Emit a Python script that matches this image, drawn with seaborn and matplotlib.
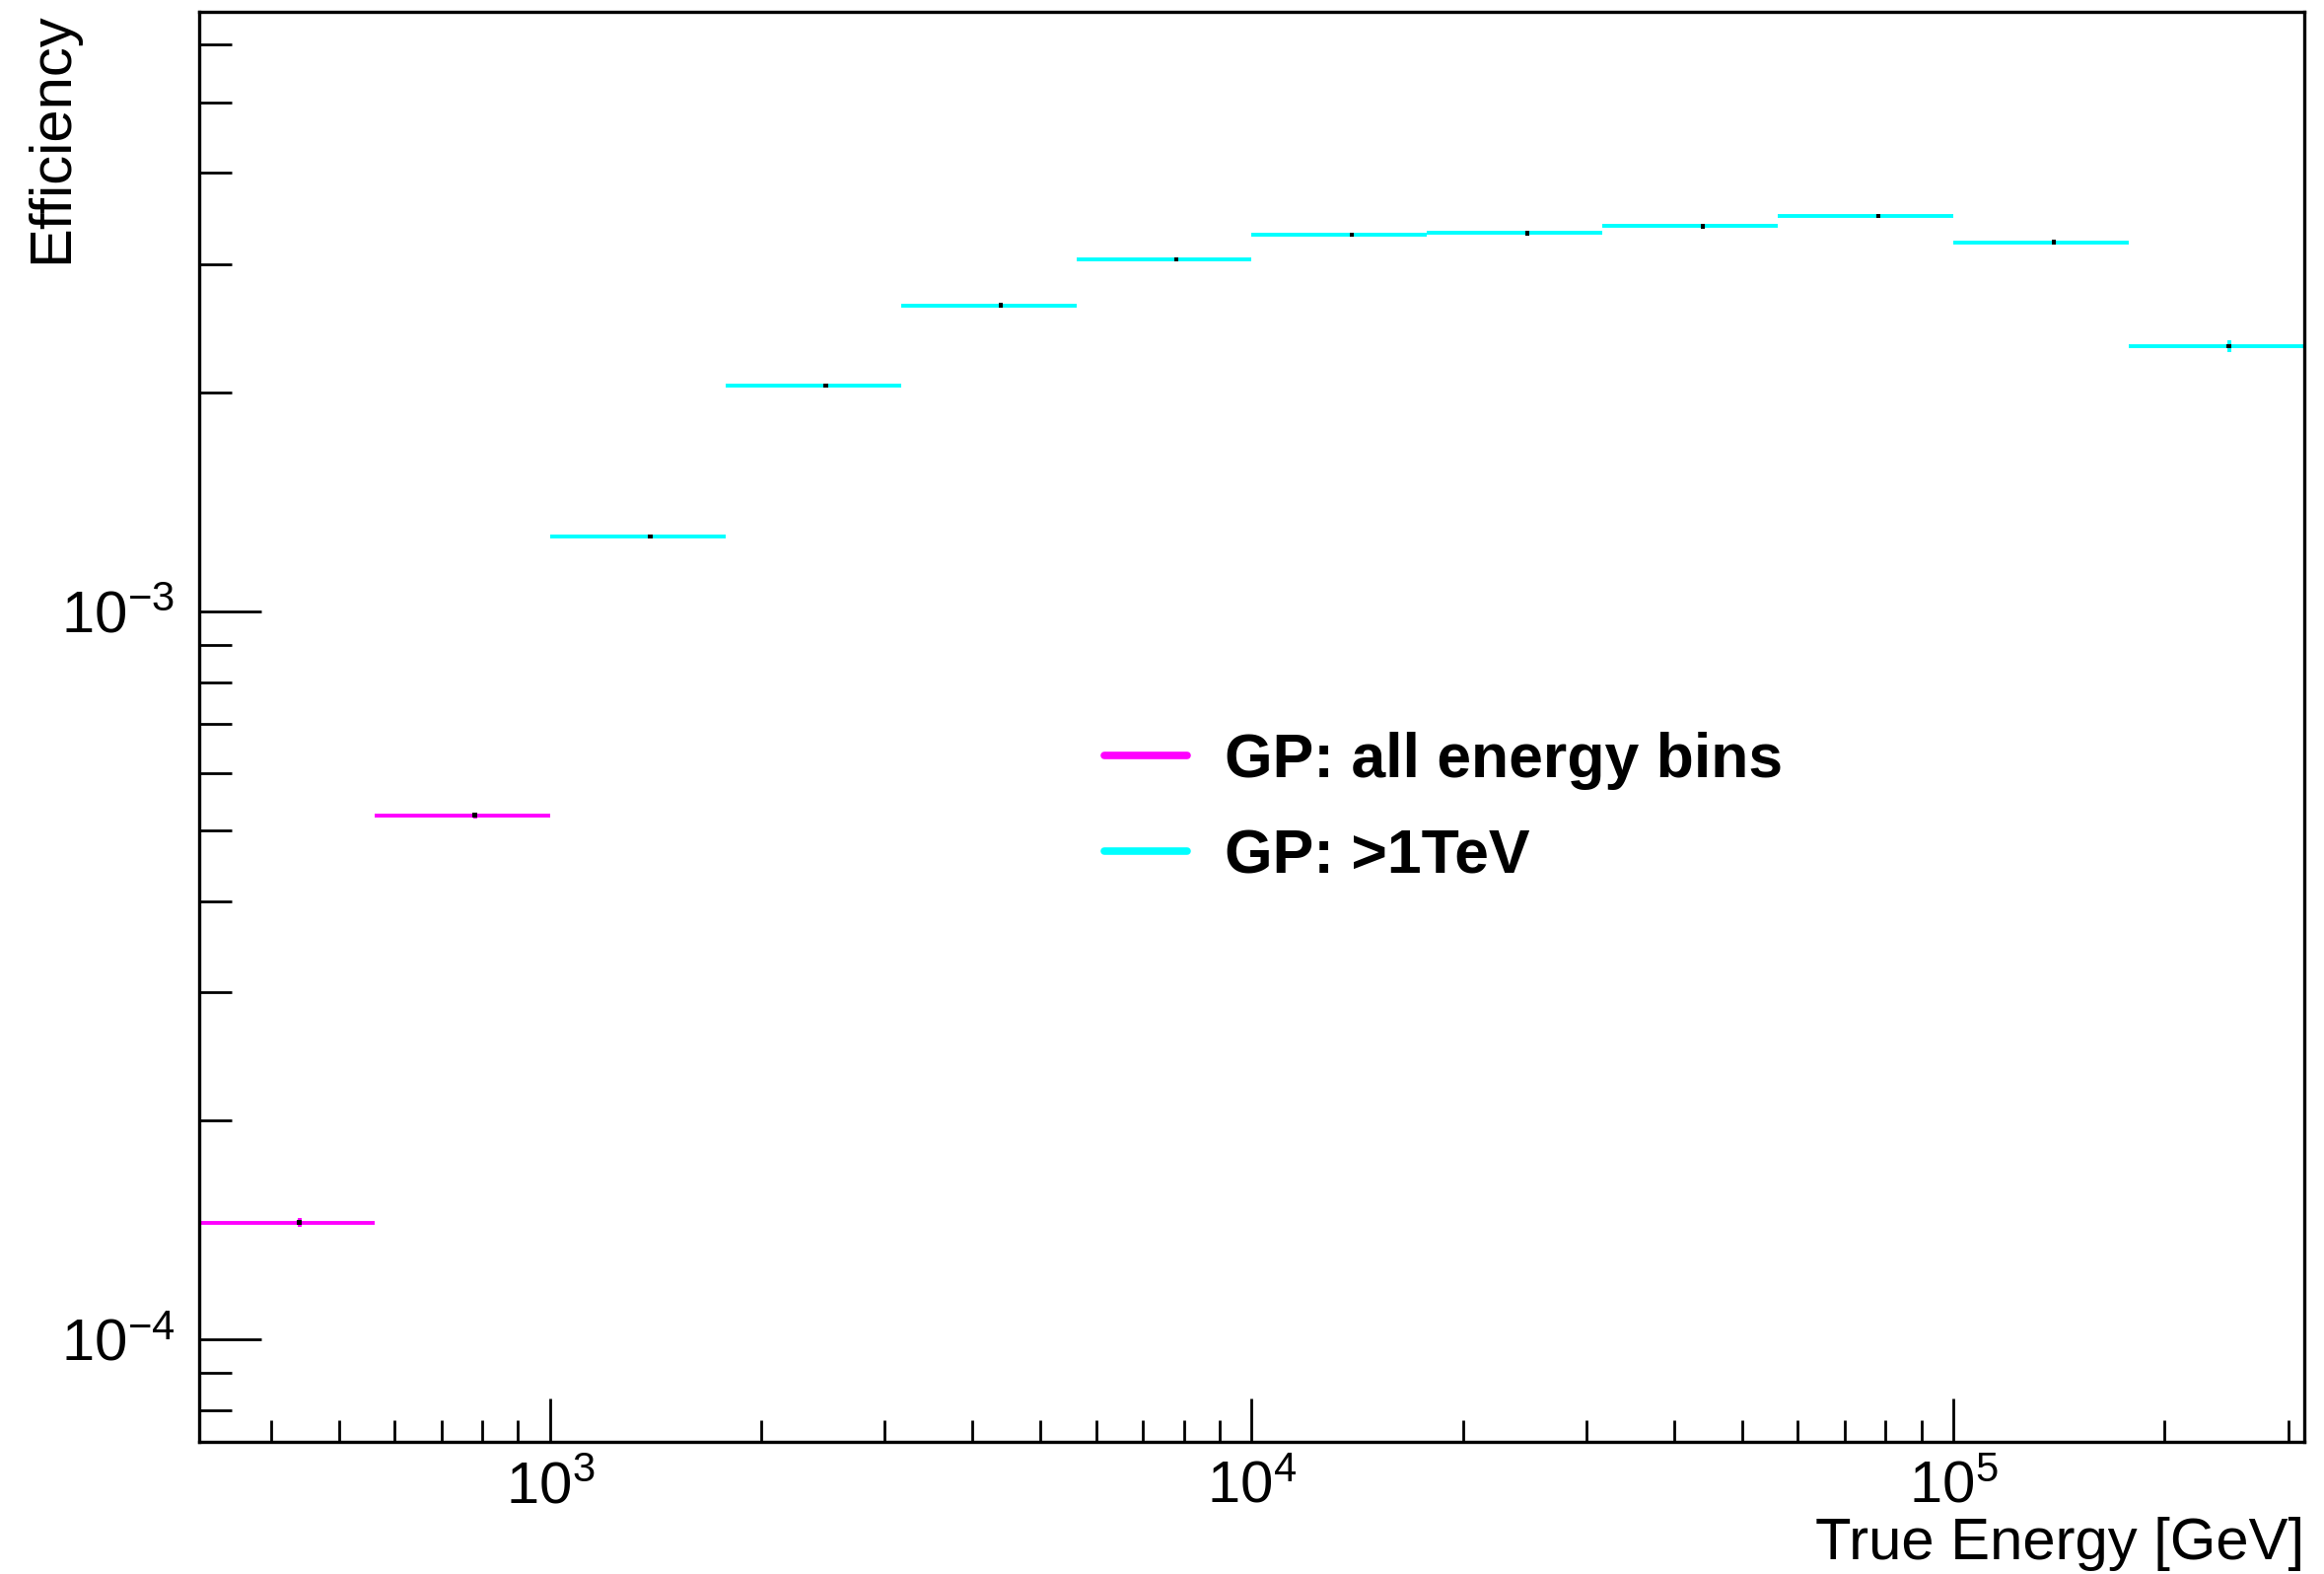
import numpy as np
import pandas as pd
import matplotlib
matplotlib.use("Agg")
import matplotlib.pyplot as plt
import seaborn as sns
from matplotlib.ticker import LogLocator, NullFormatter, LogFormatterSciNotation
from matplotlib.lines import Line2D

# ---------------- data ----------------
# bin edges in true energy [GeV] (quarter-decade bins)
bin_low = [316.2, 562.3, 1000.0, 1778.3, 3162.3, 5623.4, 10000.0, 17782.8,
           31622.8, 56234.1, 100000.0, 177827.9]
bin_high = [562.3, 1000.0, 1778.3, 3162.3, 5623.4, 10000.0, 17782.8,
            31622.8, 56234.1, 100000.0, 177827.9, 316227.8]
bin_center = [439.3, 781.2, 1389.2, 2470.3, 4392.9, 7811.7, 13891.4, 24702.8,
              43928.5, 78117.1, 138913.9, 247027.9]
efficiency = [1.449e-4, 5.25e-4, 1.267e-3, 2.043e-3, 2.633e-3, 3.045e-3,
              3.291e-3, 3.307e-3, 3.38e-3, 3.495e-3, 3.214e-3, 2.313e-3]
eff_err = [2e-6, 5e-6, 8e-6, 1e-5, 1e-5, 1e-5, 1e-5, 1.2e-5, 1.5e-5, 2e-5,
           2.5e-5, 4.5e-5]
series = ["GP: all energy bins", "GP: all energy bins",
          "GP: >1TeV", "GP: >1TeV", "GP: >1TeV", "GP: >1TeV", "GP: >1TeV",
          "GP: >1TeV", "GP: >1TeV", "GP: >1TeV", "GP: >1TeV", "GP: >1TeV"]
series_names = ["GP: all energy bins", "GP: >1TeV"]
series_colors = ["#FF00FF", "#00FFFF"]

df = pd.DataFrame({"lo": bin_low, "hi": bin_high, "energy": bin_center,
                   "eff": efficiency, "err": eff_err, "series": series})

# ---------------- style ----------------
sns.set_theme(style="white")
plt.rcParams["font.family"] = ["Liberation Sans", "DejaVu Sans"]
plt.rcParams["mathtext.fontset"] = "custom"
plt.rcParams["mathtext.rm"] = "Liberation Sans"
plt.rcParams["mathtext.it"] = "Liberation Sans:italic"
plt.rcParams["mathtext.bf"] = "Liberation Sans:bold"
plt.rcParams["mathtext.default"] = "regular"
plt.rcParams["text.color"] = "black"
plt.rcParams["axes.labelcolor"] = "black"
plt.rcParams["xtick.color"] = "black"
plt.rcParams["ytick.color"] = "black"

fig = plt.figure(figsize=(23.57, 15.96), dpi=100)
W, H = 2357, 1596
ax_l, ax_r, ax_t, ax_b = 202, 2337, 12, 1462
ax = fig.add_axes([ax_l / W, 1 - ax_b / H, (ax_r - ax_l) / W, (ax_b - ax_t) / H])

for name, col in zip(series_names, series_colors):
    sub = df[df["series"] == name]
    ax.errorbar(sub["energy"], sub["eff"],
                xerr=[sub["energy"] - sub["lo"], sub["hi"] - sub["energy"]],
                yerr=sub["err"], fmt="none", ecolor=col, elinewidth=2.8,
                capsize=0, zorder=2)

sns.scatterplot(data=df, x="energy", y="eff", color="black", marker="s",
                s=10, edgecolor="none", ax=ax, zorder=3, legend=False)

ax.set_xscale("log")
ax.set_yscale("log")
ax.set_xlim(316.23, 316227.8)
ax.set_ylim(7.24e-5, 6.66e-3)

ax.xaxis.set_major_locator(LogLocator(base=10, numticks=20))
ax.xaxis.set_minor_locator(LogLocator(base=10, subs=np.arange(2, 10), numticks=100))
ax.yaxis.set_major_locator(LogLocator(base=10, numticks=20))
ax.yaxis.set_minor_locator(LogLocator(base=10, subs=np.arange(2, 10), numticks=100))
ax.xaxis.set_major_formatter(LogFormatterSciNotation())
ax.yaxis.set_major_formatter(LogFormatterSciNotation())
ax.xaxis.set_minor_formatter(NullFormatter())
ax.yaxis.set_minor_formatter(NullFormatter())

for sp in ax.spines.values():
    sp.set_linewidth(2.4)
    sp.set_color("black")

ax.tick_params(axis="x", which="major", direction="in", length=32, width=2.0,
               labelsize=43, pad=14, color="black", labelcolor="black",
               bottom=True, top=False)
ax.tick_params(axis="x", which="minor", direction="in", length=16, width=2.0,
               color="black", bottom=True, top=False)
ax.tick_params(axis="y", which="major", direction="in", length=45, width=2.0,
               labelsize=43, pad=18, color="black", labelcolor="black",
               left=True, right=False)
ax.tick_params(axis="y", which="minor", direction="in", length=24, width=2.0,
               color="black", left=True, right=False)

ax.set_xlabel("True Energy [GeV]", fontsize=43, loc="right", color="black")
ax.set_ylabel("Efficiency", fontsize=43, loc="top", color="black")
ax.xaxis.set_label_coords(1.0, -0.0526)
ax.yaxis.set_label_coords(-0.057, 1.0)

handles = [Line2D([], [], color=c, lw=5.5) for c in series_colors]
leg = ax.legend(handles, series_names, loc="upper left",
                bbox_to_anchor=(1120 / W, 1 - 742 / H),
                bbox_transform=fig.transFigure, frameon=False,
                prop={"family": "Liberation Sans", "weight": "bold", "size": 45},
                handlelength=1.34, handletextpad=0.62, labelspacing=0.61,
                borderpad=0, borderaxespad=0)
for t in leg.get_texts():
    t.set_color("black")

fig.savefig("out.png", dpi=100, facecolor="white")
